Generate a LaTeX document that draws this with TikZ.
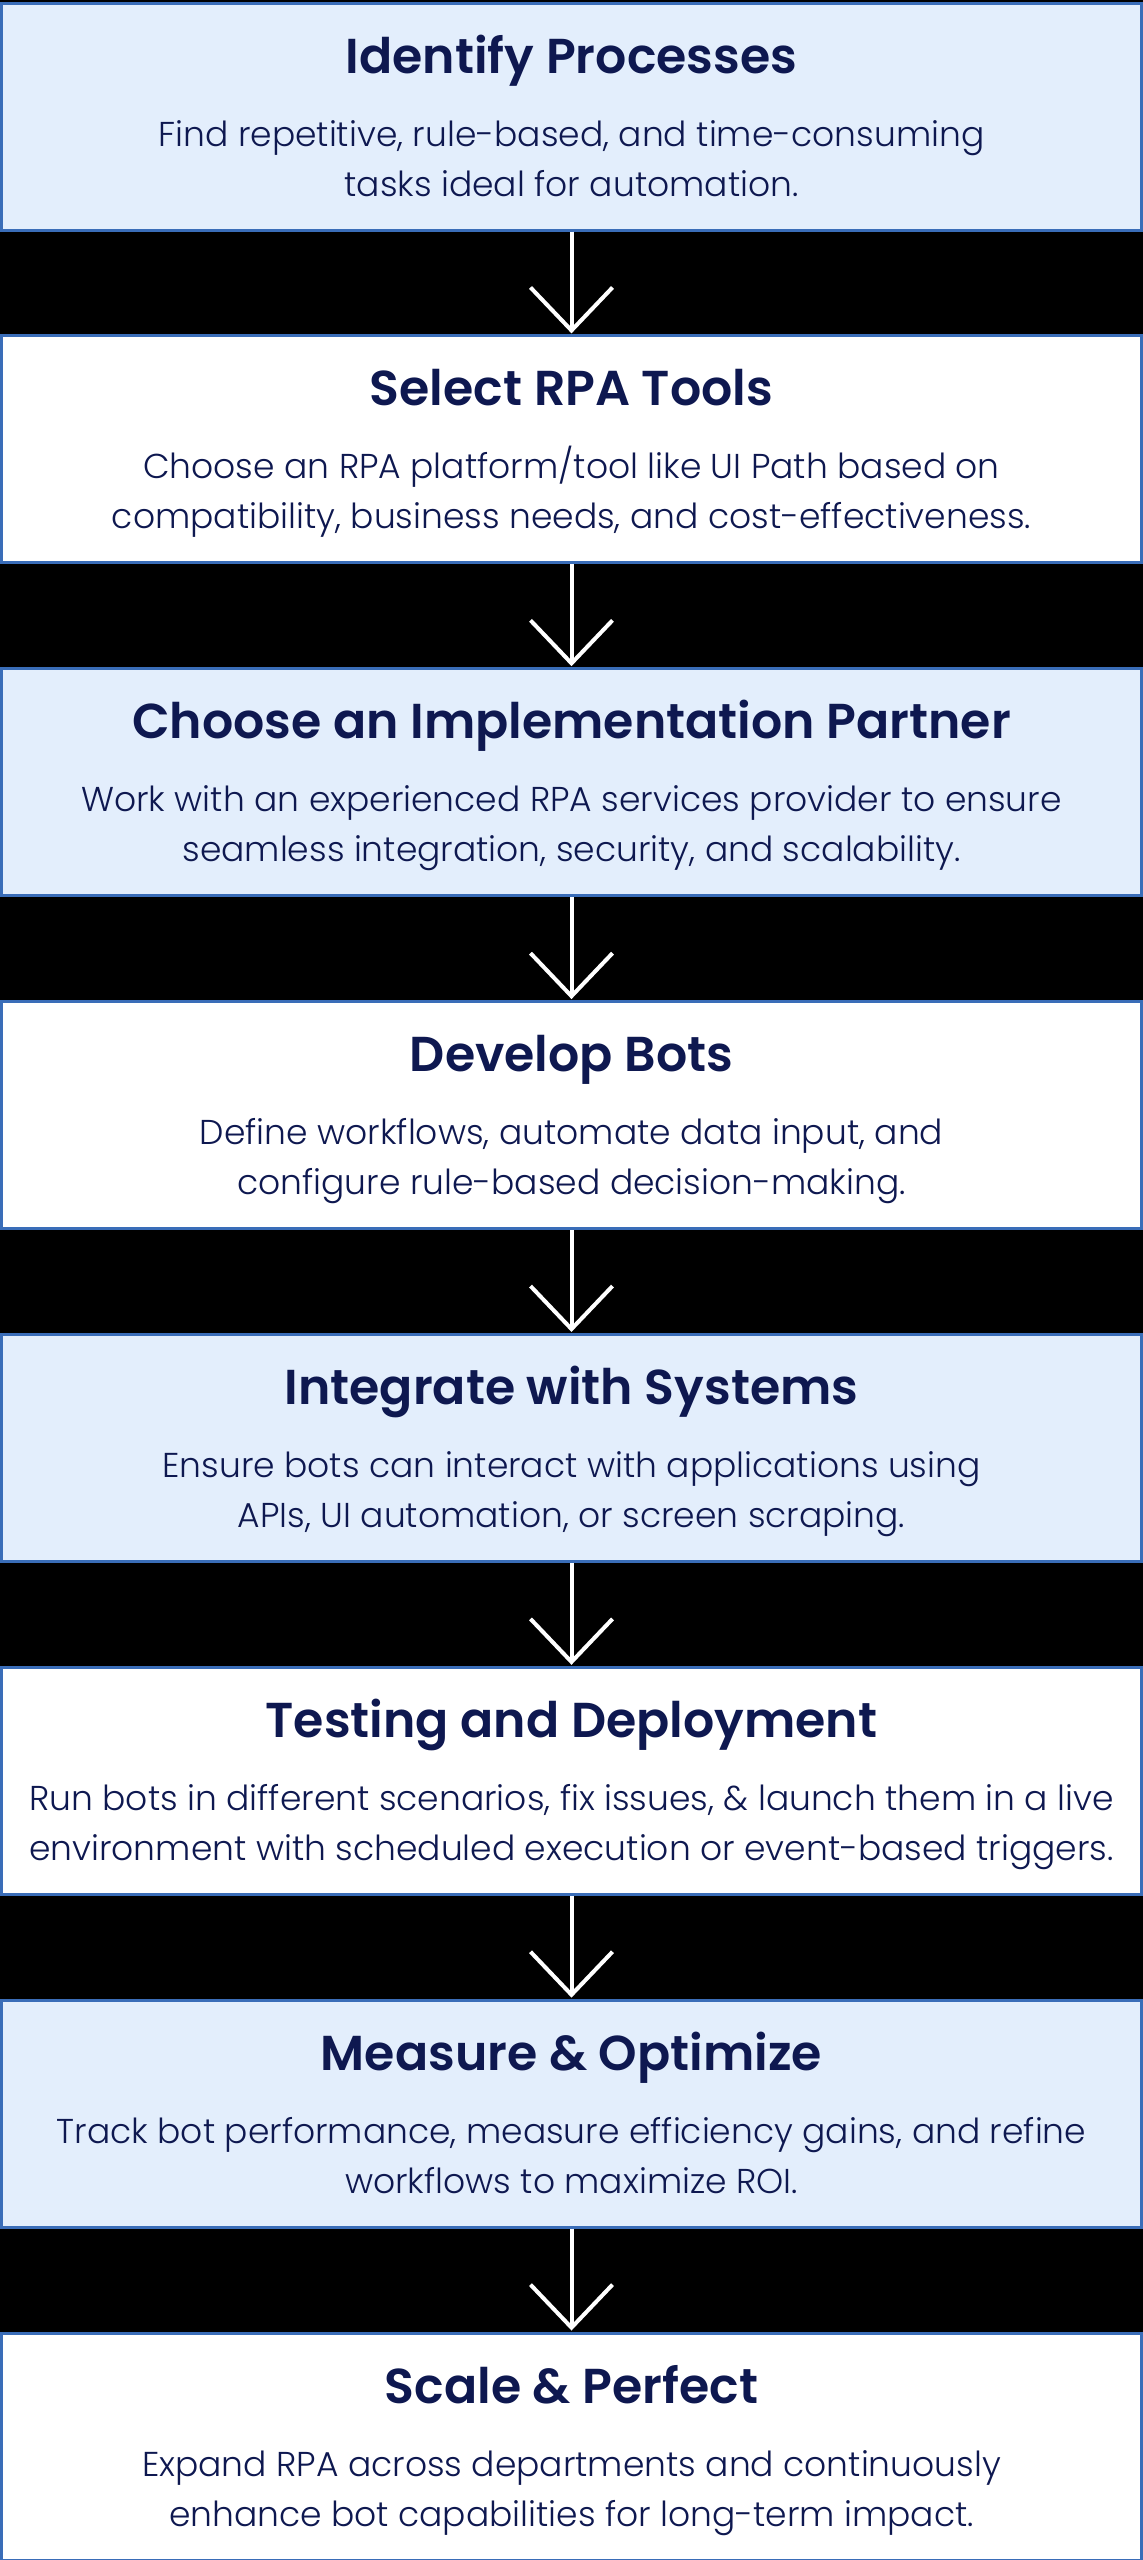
\documentclass[tikz,border=0pt]{standalone}
\usepackage{fontspec}
\setmainfont{Poppins}[UprightFont=* Light, BoldFont=* SemiBold]
\usetikzlibrary{arrows.meta}
\definecolor{boxblue}{HTML}{3A6DB8}
\definecolor{lightfill}{HTML}{E3EEFC}
\definecolor{navy}{HTML}{0E1850}
\tikzset{
  stepbox/.style={draw=boxblue, line width=3pt, minimum width=1140pt, minimum height=227pt, inner sep=0pt, anchor=north},
  tinted/.style={fill=lightfill},
  plain/.style={fill=white},
  titletext/.style={anchor=base, inner sep=0pt, text=navy, font=\fontsize{49}{55}\selectfont\bfseries},
  bodytext/.style={anchor=base, inner sep=0pt, text=navy, font=\fontsize{34.5}{50}\selectfont},
  flow/.style={draw=white, line width=4pt, -{Straight Barb[length=43pt, width=82pt, line width=4pt]}, shorten >=1pt},
}
\newcommand{\makestep}[6]{%
  % #1 name, #2 top y, #3 style, #4 title, #5 line1, #6 line2
  \node[stepbox, #3] (#1) at (571.5pt, -#2pt-1.5pt) {};
  \node[titletext] (#1t) at (571.5pt, -#2pt-73pt) {#4};
  \node[bodytext] (#1a) at (571.5pt, -#2pt-146pt) {#5};
  \node[bodytext] (#1b) at (571.5pt, -#2pt-196pt) {#6};
}
\begin{document}
\begin{tikzpicture}[x=1pt,y=1pt]
\fill[black] (0,0) rectangle (1143,-2560);
\useasboundingbox (0,0) rectangle (1143,-2560);
\makestep{s1}{0}{tinted}{Identify Processes}{Find repetitive, rule-based, and time-consuming}{tasks ideal for automation.}
\makestep{s2}{332.86}{plain}{Select RPA Tools}{Choose an RPA platform/tool like UI Path based on}{compatibility, business needs, and cost-effectiveness.}
\makestep{s3}{665.71}{tinted}{Choose an Implementation Partner}{Work with an experienced RPA services provider to ensure}{seamless integration, security, and scalability.}
\makestep{s4}{998.57}{plain}{Develop Bots}{Define workflows, automate data input, and}{configure rule-based decision-making.}
\makestep{s5}{1331.43}{tinted}{Integrate with Systems}{Ensure bots can interact with applications using}{APIs, UI automation, or screen scraping.}
\makestep{s6}{1664.29}{plain}{Testing and Deployment}{Run bots in different scenarios, fix issues, \& launch them in a live}{environment with scheduled execution or event-based triggers.}
\makestep{s7}{1997.14}{tinted}{Measure \& Optimize}{Track bot performance, measure efficiency gains, and refine}{workflows to maximize ROI.}
\makestep{s8}{2330}{plain}{Scale \& Perfect}{Expand RPA across departments and continuously}{enhance bot capabilities for long-term impact.}
\foreach \a/\b in {s1/s2,s2/s3,s3/s4,s4/s5,s5/s6,s6/s7,s7/s8}
  \draw[flow] (\a.south) -- (\b.north);
\end{tikzpicture}
\end{document}
